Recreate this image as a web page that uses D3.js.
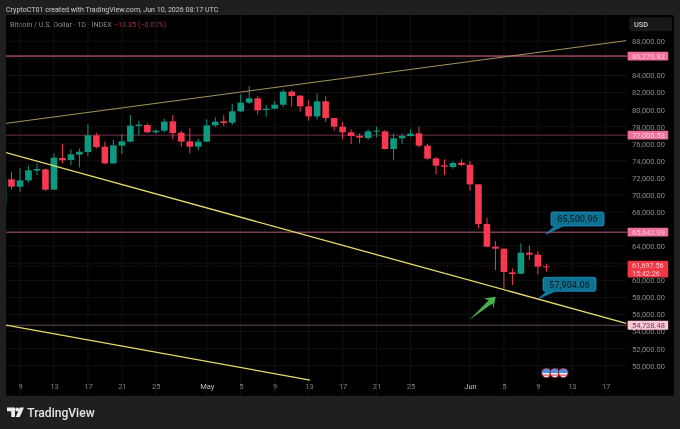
<!DOCTYPE html>
<html><head><meta charset="utf-8">
<script src="https://cdn.jsdelivr.net/npm/d3@7"></script>
<style>
html,body{margin:0;padding:0;background:#1f1f1f;overflow:hidden}
svg{display:block;filter:blur(0.35px)}
text{font-family:Roboto,"Noto Sans",sans-serif}
.tick line{display:none}
</style></head><body>
<svg id="c" width="680" height="429"></svg>
<script>
// Candles: first one is Apr 7 2026 (day -2), one per day; day 0 is Apr 9
const firstDay = -2;
const opens = [68822,71829,70970,71712,72844,73000,70618,74328,74094,74719,75031,76984,75656,73704,75773,76242,78077,78194,77335,77530,78624,77296,76281,75656,76242,78155,78624,78468,79795,80811,81318,79952,80108,80576,82099,81631,80381,79209,80967,79014,77999,77335,76906,76671,77413,77452,75383,76632,76906,77218,75773,74289,73469,73274,73782,73547,71243,66596,63940,63706,60934,60777,63238,63003,61637];
const highs = [71900,72725,73118,73430,73704,73118,74875,75968,75344,75461,78312,77296,76242,76437,77140,79365,78702,78389,77687,78897,79365,77530,77804,76554,78858,79092,79365,80654,81787,82763,81631,80537,81006,82373,82295,81709,81123,81904,81553,79014,78585,77687,77218,77687,77999,77609,77218,77218,77687,77999,75968,74406,74172,73938,74172,73977,71243,67338,64604,63750,61402,64331,64097,63433,61910];
const lows = [68200,70656,70384,71439,72337,70501,70579,73704,73508,73235,74563,75461,73626,73626,74797,76164,76984,77257,77178,77335,76515,75656,74875,75266,76164,77999,78077,78233,79717,80654,79405,79170,80030,80264,80342,79756,78702,78858,78546,77530,76515,75968,76046,76437,76749,75305,74094,75968,76827,75578,74133,72376,72337,73079,73391,70501,66088,63901,61207,59059,59450,60738,62378,60700,61012];
const closes = [71867,70970,71712,72883,73040,70618,74367,74055,74758,75070,76984,75617,73704,75812,76281,78116,78233,77335,77530,78585,77257,76242,75656,76242,78155,78585,78429,79795,80811,81318,79912,80108,80576,82099,81592,80381,79209,80967,79014,77999,77335,76906,76710,77452,77530,75383,76632,76906,77178,75773,74250,73430,73313,73743,73508,71243,66596,63940,63706,60973,60738,63238,63003,61597,61558];

const gridPrices = [50000,52000,54000,56000,58000,60000,62000,64000,66000,68000,70000,72000,74000,76000,78000,80000,82000,84000,86000,88000];
const priceTicks = [50000,52000,54000,56000,58000,60000,64000,68000,70000,72000,74000,76000,78000,80000,82000,84000,88000];
const dayTicks = [0,4,8,12,16,22,26,30,34,38,42,46,53,57,61,65,69];
const dayLabels = ["9","13","17","21","25","May","5","9","13","17","21","25","Jun","5","9","13","17"];

const hLevels = [86270.82,77005.53,65642.09,54738.48];
const hLevelNames = ["86,270.82","77,005.53","65,642.09","54,738.48"];
const hLineColors = ["#ee6a92","#6e2f48","#b35a78","#5f4a54"];
const hBoxColors = ["#ee6f9b","#ee6f9b","#ee6f9b","#ffc6d8"];
const hTextColors = ["#ffc4d6","#ffd2e0","#ffc4d6","#5a4a50"];

const upperLine = [[-1.65,78390],[71.4,88074]];
const midLine = [[-1.65,74953],[71.4,54960]];
const lowerLine = [[-1.65,54764],[34.16,48321]];
const trendLines = [upperLine,midLine,lowerLine];
const trendColors = ["#a3965a","#e8dc6a","#e8dc6a"];
const trendWidths = [1,1.3,1.3];

const lastPrice = 61697.56;
const lastLabel = "61,697.56";
const countdown = "15:42:26";
const callouts = [{text:"65,500.96",day:62,price:65500.96},{text:"57,904.06",day:61.5,price:57904.06}];
const arrowTail = [52.9,55350], arrowTip = [56.03,58083];
const eventDays = [62,63,64];
const eventPrice = 49150;

const up="#0d9a80", down="#f7384f";
const x = d3.scaleLinear().domain([0,69]).range([20,605.8]);
const y = d3.scaleLinear().domain([50000,88000]).range([365.7,41.3]);
const svg = d3.select("#c");
svg.append("rect").attr("width",680).attr("height",429).attr("fill","#1f1f1f");
svg.append("defs").append("clipPath").attr("id","plot").append("rect").attr("x",6).attr("y",15).attr("width",621).attr("height",380.7);
svg.append("rect").attr("x",6).attr("y",15).attr("width",668).attr("height",380.7).attr("rx",2).attr("fill","#000");

svg.append("text").attr("x",6).attr("y",11.5).attr("font-size",7.1).attr("fill","#c9c9c9").text("CryptoCT01 created with TradingView.com, Jun 10, 2026 08:17 UTC");
const leg = svg.append("text").attr("x",10).attr("y",26.5).attr("font-size",7.2).attr("fill","#8b8b8b");
leg.append("tspan").text("Bitcoin / U.S. Dollar · 1D · INDEX");
leg.append("tspan").attr("x",114).attr("fill","#b52a3c").text("−10.35 (−0.02%)");

const plot = svg.append("g").attr("clip-path","url(#plot)");
plot.append("g").selectAll("line").data(gridPrices).join("line").attr("x1",6).attr("x2",627).attr("y1",d=>y(d)).attr("y2",d=>y(d)).attr("stroke","#111");
plot.append("g").selectAll("line").data(dayTicks).join("line").attr("y1",15).attr("y2",396).attr("x1",d=>x(d)).attr("x2",d=>x(d)).attr("stroke","#111");

// last price dotted
plot.append("line").attr("x1",6).attr("x2",627).attr("y1",y(lastPrice)).attr("y2",y(lastPrice)).attr("stroke","#6b2a33").attr("stroke-width",.7).attr("stroke-dasharray","1 2");

// horizontal levels
plot.append("g").selectAll("line").data(hLevels).join("line").attr("x1",6).attr("x2",627).attr("y1",d=>y(d)).attr("y2",d=>y(d)).attr("stroke",(d,i)=>hLineColors[i]).attr("stroke-width",1);

// candles
const candles = opens.map((o,i)=>({day:firstDay+i,o,h:highs[i],l:lows[i],c:closes[i]}));
const cg = plot.append("g");
cg.selectAll("line").data(candles).join("line").attr("x1",d=>x(d.day)).attr("x2",d=>x(d.day)).attr("y1",d=>y(d.h)).attr("y2",d=>y(d.l)).attr("stroke",d=>d.c>=d.o?up:down).attr("stroke-width",1);
cg.selectAll("rect").data(candles).join("rect").attr("x",d=>x(d.day)-3.3).attr("width",6.6).attr("y",d=>y(Math.max(d.o,d.c))).attr("height",d=>Math.max(1,y(Math.min(d.o,d.c))-y(Math.max(d.o,d.c)))).attr("fill",d=>d.c>=d.o?up:down);

// trend lines
plot.append("g").selectAll("line").data(trendLines).join("line").attr("x1",d=>x(d[0][0])).attr("y1",d=>y(d[0][1])).attr("x2",d=>x(d[1][0])).attr("y2",d=>y(d[1][1])).attr("stroke",(d,i)=>trendColors[i]).attr("stroke-width",(d,i)=>trendWidths[i]);

// green arrow
const [tx,ty]=[x(arrowTail[0]),y(arrowTail[1])],[hx,hy]=[x(arrowTip[0]),y(arrowTip[1])];
const L=Math.hypot(hx-tx,hy-ty),ux=(hx-tx)/L,uy=(hy-ty)/L,nx=-uy,ny=ux;
const pt=(a,b)=>[hx-ux*a+nx*b,hy-uy*a+ny*b];
plot.append("path").attr("d",d3.line()([[tx,ty],pt(7.5,-2),pt(10,-6.5),[hx,hy],pt(9.5,7.3),pt(7,3)])+"Z").attr("fill","#46b04a");

// event flags
const fg = svg.append("g").selectAll("g").data(eventDays).join("g").attr("transform",d=>`translate(${x(d)},${y(eventPrice)})`);
fg.append("circle").attr("r",5.4).attr("fill","#6e1220");
fg.append("circle").attr("r",4.2).attr("fill","#f2eef0");
fg.append("path").attr("d",d3.arc()({innerRadius:0,outerRadius:4.2,startAngle:-Math.PI/2,endAngle:Math.PI/2})).attr("fill","#4a90e2");
fg.append("rect").attr("x",-3.6).attr("y",1.6).attr("width",7.2).attr("height",1.1).attr("fill","#d9404f");

// callouts
const cbW=53,cbH=14;
const co = svg.append("g").selectAll("g").data(callouts).join("g");
const cbx=[551,543], cby=[212,277.3];
co.append("path").attr("fill","#0e7392").attr("stroke","#1f9fd8").attr("stroke-width",.7).attr("d",(d,i)=>{
  const X=cbx[i],Y=cby[i],px=(i==0?546:539),py=(i==0?234:298.3);
  return `M${X+2},${Y}H${X+cbW-2}Q${X+cbW},${Y} ${X+cbW},${Y+2}V${Y+cbH-2}Q${X+cbW},${Y+cbH} ${X+cbW-2},${Y+cbH}H${X+12}L${px},${py}L${X+4},${Y+cbH}H${X+2}Q${X},${Y+cbH} ${X},${Y+cbH-2}V${Y+2}Q${X},${Y} ${X+2},${Y}Z`;
});
co.append("text").attr("x",(d,i)=>cbx[i]+cbW/2).attr("y",(d,i)=>cby[i]+10.2).attr("text-anchor","middle").attr("font-size",9).attr("font-weight",500).attr("fill","#06262f").text(d=>d.text);

// axes
const ay = svg.append("g").attr("transform","translate(627,0)").call(d3.axisRight(y).tickValues(priceTicks).tickSize(0).tickPadding(5).tickFormat(d3.format(",.2f")));
ay.select(".domain").remove();
ay.selectAll("text").attr("font-size",7.5).attr("fill","#8a8a8a").style("font-family","Roboto");
const ax = svg.append("g").attr("transform","translate(0,384)").call(d3.axisBottom(x).tickValues(dayTicks).tickSize(0).tickPadding(0).tickFormat((d,i)=>dayLabels[i]));
ax.select(".domain").remove();
ax.selectAll("text").attr("font-size",7.5).attr("fill",(d,i)=>/[A-Z]/.test(dayLabels[i])?"#bdbdbd":"#808080").style("font-family","Roboto");

// price boxes
const lb = svg.append("g").selectAll("g").data(hLevels).join("g");
lb.append("rect").attr("x",627.6).attr("width",40.6).attr("height",8.8).attr("y",d=>y(d)-4.4).attr("rx",.8).attr("fill",(d,i)=>hBoxColors[i]);
lb.append("text").attr("x",632).attr("y",d=>y(d)+2.7).attr("font-size",7.5).attr("fill",(d,i)=>hTextColors[i]).text((d,i)=>hLevelNames[i]);
svg.append("rect").attr("x",627.6).attr("y",y(lastPrice)-5).attr("width",40.6).attr("height",16.6).attr("rx",1).attr("fill","#f23645");
svg.append("text").attr("x",632).attr("y",y(lastPrice)+2.3).attr("font-size",7.2).attr("fill","#ffc9cf").text(lastLabel);
svg.append("text").attr("x",632).attr("y",y(lastPrice)+10).attr("font-size",7.2).attr("fill","#ffc9cf").text(countdown);

// USD button
svg.append("rect").attr("x",629.3).attr("y",17.3).attr("width",42.7).attr("height",14).attr("rx",2).attr("fill","#181818");
svg.append("text").attr("x",634).attr("y",27).attr("font-size",7.4).attr("font-weight",500).attr("fill","#d0d0d0").text("USD");

// TradingView logo
const logo = svg.append("g").attr("fill","#ececec");
logo.append("path").attr("d","M7,407.6H15V417H11.2V411.2H7Z");
logo.append("circle").attr("cx",17.2).attr("cy",409.5).attr("r",1.9);
logo.append("path").attr("d","M19.8,407.6H24L19.8,417H15.8Z");
svg.append("text").attr("x",27.3).attr("y",417).attr("font-size",12.1).attr("font-weight",500).attr("fill","#e6e6e6").text("TradingView");
</script>
</body></html>
